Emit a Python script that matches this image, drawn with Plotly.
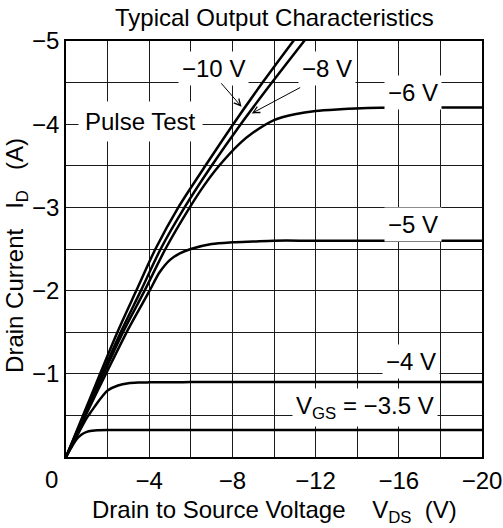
import plotly.graph_objects as go

# ---------------- data ----------------
vds_10 = [0, -1.0, -2.47, -3.38, -4.3, -5.4, -6.7, -8.04, -9.45, -10.93, -11.6]
id_10 = [0, -0.61, -1.5, -2.0, -2.5, -3.0, -3.5, -4.0, -4.5, -5.0, -5.22]

vds_8 = [0, -1.0, -2.63, -3.6, -4.55, -5.7, -7.0, -8.4, -9.9, -11.45, -12.1]
id_8 = [0, -0.58, -1.5, -2.0, -2.5, -3.0, -3.5, -4.0, -4.5, -5.0, -5.2]

vds_6 = [0, -1.0, -2.74, -3.78, -4.78, -5.95, -6.6, -7.36, -8.36, -9.0, -10.0, -11.0, -12.0, -13.2, -14.5, -16, -20]
id_6 = [0, -0.555, -1.5, -2.0, -2.5, -3.0, -3.25, -3.5, -3.77, -3.9, -4.05, -4.12, -4.16, -4.18, -4.195, -4.2, -4.2]

vds_5 = [0, -1, -2, -3, -4, -4.5, -5, -5.5, -6, -7, -8, -9, -10, -12, -20]
id_5 = [0, -0.53, -1.04, -1.54, -1.99, -2.22, -2.37, -2.45, -2.5, -2.56, -2.58, -2.59, -2.6, -2.6, -2.6]

vds_4 = [0, -0.5, -1.0, -1.25, -1.5, -1.75, -2.0, -2.5, -3.0, -3.5, -4, -6, -20]
id_4 = [0, -0.24, -0.47, -0.56, -0.65, -0.73, -0.8, -0.86, -0.887, -0.895, -0.897, -0.9, -0.9]

vds_35 = [0, -0.25, -0.5, -0.75, -1.0, -1.25, -1.5, -2.0, -3, -20]
id_35 = [0, -0.11, -0.21, -0.27, -0.302, -0.315, -0.322, -0.325, -0.325, -0.325]

x_tickvals = [0, -2, -4, -6, -8, -10, -12, -14, -16, -18, -20]
x_ticktext = ["", "", "−4", "", "−8", "", "−12", "", "−16", "", "−20"]
y_tickvals = [0, -0.5, -1, -1.5, -2, -2.5, -3, -3.5, -4, -4.5, -5]
y_ticktext = ["", "", "−1", "", "−2", "", "−3", "", "−4", "", "−5"]

FONT = "Liberation Sans, Arial, Helvetica, sans-serif"
FS = 24

fig = go.Figure()
for xs, ys in [(vds_10, id_10), (vds_8, id_8), (vds_6, id_6),
               (vds_5, id_5), (vds_4, id_4), (vds_35, id_35)]:
    fig.add_trace(go.Scatter(x=xs, y=ys, mode="lines",
                             line=dict(color="black", width=2.5, shape="spline", smoothing=0.8),
                             hoverinfo="skip", showlegend=False))

ann = []
def lab(text, x, y, pad=3):
    ann.append(dict(text=text, x=x, y=y, xref="x", yref="y", showarrow=False,
                    font=dict(family=FONT, size=FS, color="black"),
                    bgcolor="white", borderpad=pad, xanchor="center", yanchor="middle"))

lab("−10 V", -7.11, -4.675)
lab("−8 V", -12.54, -4.675)
lab("−6 V", -16.7, -4.38)
lab("Pulse Test", -3.59, -4.03, pad=6)
lab("−5 V", -16.7, -2.795)
lab("−4 V", -16.6, -1.15)
lab("V<sub>GS</sub> = −3.5 V", -14.39, -0.59)

# arrows
for (hx, hy, tx, ty) in [(-8.44, -4.21, -7.4, -4.51), (-8.93, -4.13, -11.33, -4.45)]:
    ann.append(dict(text="", x=hx, y=hy, xref="x", yref="y", ax=tx, ay=ty,
                    axref="x", ayref="y", showarrow=True, arrowhead=5,
                    arrowsize=1.3, arrowwidth=1, arrowcolor="black"))

ann.append(dict(text="Typical Output Characteristics", x=0.5, y=1.0553, xref="paper", yref="paper",
                showarrow=False, font=dict(family=FONT, size=FS, color="black"),
                xanchor="center", yanchor="middle"))
ann.append(dict(text="Drain to Source Voltage    V<sub>DS</sub>  (V)", x=0.5, y=-0.13,
                xref="paper", yref="paper", showarrow=False,
                font=dict(family=FONT, size=FS, color="black"), xanchor="center", yanchor="middle"))
ann.append(dict(text="Drain Current   I<sub>D</sub>   (A)", x=-0.118, y=0.4856,
                xref="paper", yref="paper", showarrow=False, textangle=-90,
                font=dict(family=FONT, size=FS, color="black"), xanchor="center", yanchor="middle"))
ann.append(dict(text="0", x=-0.035, y=-0.055, xref="paper", yref="paper", showarrow=False,
                font=dict(family=FONT, size=FS, color="black"), xanchor="center", yanchor="middle"))

axis_common = dict(showline=True, mirror=True, linecolor="black", linewidth=1.5,
                   showgrid=True, gridcolor="#1a1a1a", gridwidth=1.2, zeroline=False,
                   ticks="", tickfont=dict(family=FONT, size=FS, color="black"), tickmode="array",
                   automargin=False)

fig.update_layout(
    width=503, height=528,
    margin=dict(l=66, r=21, t=41, b=71, autoexpand=False),
    paper_bgcolor="white", plot_bgcolor="white",
    xaxis=dict(range=[0, -20], tickvals=x_tickvals, ticktext=x_ticktext,
               ticklabelstandoff=1, **axis_common),
    yaxis=dict(range=[0, -5], tickvals=y_tickvals, ticktext=y_ticktext, **axis_common),
    annotations=ann,
    showlegend=False,
)

fig.write_html("out.html", config={"displayModeBar": False},
               post_script="document.body.style.margin='0';document.body.style.overflow='hidden';")
